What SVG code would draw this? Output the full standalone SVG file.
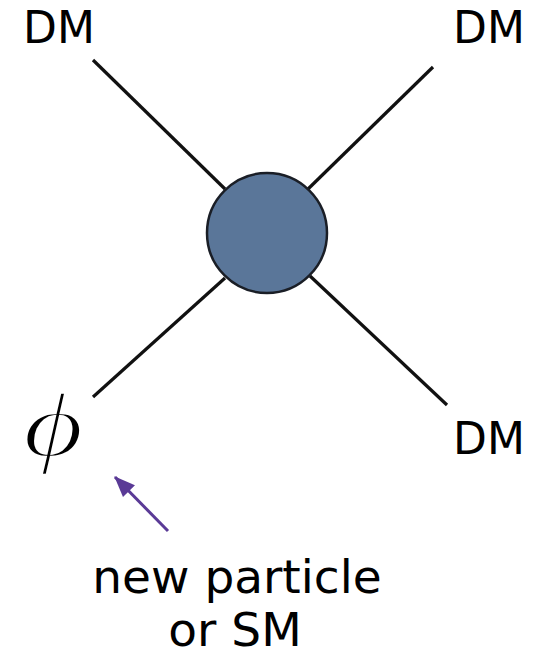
<svg xmlns="http://www.w3.org/2000/svg" width="541" height="651" viewBox="0 0 541 651">
<style>
.lbl{font-family:"DejaVu Sans",sans-serif;font-size:44px;fill:#000}
.cap{font-family:"DejaVu Sans",sans-serif;font-size:47px;fill:#000}
.leg{stroke:#111;stroke-width:3.2;fill:none}
</style>
<defs>
<marker id="ah" viewBox="0 0 10 10" refX="9.5" refY="5" markerWidth="7" markerHeight="7" orient="auto" markerUnits="strokeWidth">
<path d="M0,1 L10,5 L0,9 z" fill="#5a3a96"/>
</marker>
</defs>
<rect width="541" height="651" fill="#fff"/>
<g id="connectors">
<line class="leg" x1="93" y1="60" x2="225" y2="189"/>
<line class="leg" x1="433" y1="67" x2="307" y2="190"/>
<line class="leg" x1="93" y1="397" x2="225" y2="278"/>
<line class="leg" x1="447" y1="405" x2="310" y2="276"/>
<line x1="168" y1="531" x2="115" y2="477" stroke="#5a3a96" stroke-width="3" marker-end="url(#ah)"/>
</g>
<g id="vertex">
<circle cx="267" cy="233" r="60" fill="#5a7699" stroke="#1a1e26" stroke-width="2.5"/>
</g>
<g id="dm-top-left"><text class="lbl" x="23" y="43">DM</text></g>
<g id="dm-top-right"><text class="lbl" x="453" y="43">DM</text></g>
<g id="dm-bottom-right"><text class="lbl" x="453" y="454">DM</text></g>
<g id="phi"><text transform="translate(23,456) scale(1.3,1)" font-family="'Liberation Serif',serif" font-style="italic" font-size="90" stroke="#fff" stroke-width="2.6">ϕ</text></g>
<g id="caption">
<text class="cap" x="237" y="593" text-anchor="middle">new particle</text>
<text class="cap" x="235" y="646" text-anchor="middle">or SM</text>
</g>
</svg>
